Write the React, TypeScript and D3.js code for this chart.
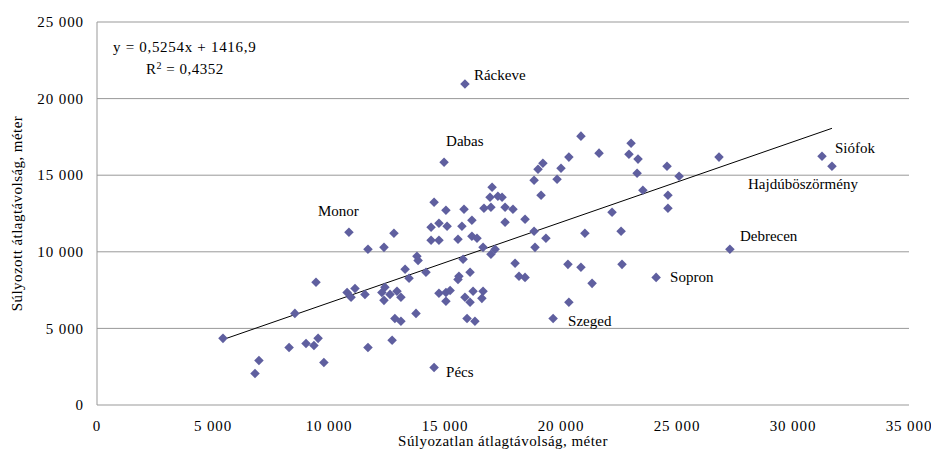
import React from 'react';
import * as d3 from 'd3';

// Súlyozatlan (x) és súlyozott (y) átlagtávolság, méter
const unweighted = [
  5430, 6810, 6980, 8280, 8530, 9010, 9350, 9530, 9780, 9440,
  10860, 11680, 10780, 11120, 10950, 11550, 11680, 12720, 12370, 12800,
  12280, 12410, 12370, 12630, 12930, 13100, 12840, 13100, 13280, 13450,
  13790, 13840, 13750, 14180, 14530, 15040, 14400, 14740, 15090, 14400,
  14740, 15560, 14530, 14740, 15040, 15220, 15040, 14960, 15860, 15820,
  16160, 15730, 16160, 16380, 16640, 15780, 15600, 16080, 15560, 15860,
  16080, 16210, 16640, 16590, 15950, 16290, 16940, 17030, 17280, 17460,
  16680, 16980, 17590, 17930, 17590, 18450, 16980, 17160, 18020, 18190,
  18450, 18840, 19010, 19220, 19140, 18840, 19350, 18880, 19830, 20000,
  20340, 20860, 21640, 21030, 20300, 20860, 21340, 20340, 19660, 22200,
  22590, 22630, 23020, 22930, 23320, 23280, 23530, 24570, 25090, 24610,
  24610, 24100, 26810, 27280, 31250, 31680,
];
const weighted = [
  4350, 2060, 2910, 3760, 5980, 4020, 3890, 4350, 2780, 8010,
  11270, 10160, 7350, 7610, 7030, 7220, 3760, 4220, 10290, 11210,
  7350, 7680, 6830, 7220, 7420, 7030, 5650, 5460, 8860, 8270,
  9710, 9440, 5980, 8660, 13240, 12710, 11600, 11860, 11670, 10750,
  10750, 10820, 2450, 7290, 7350, 7480, 6770, 15850, 20950, 12780,
  12060, 11670, 11010, 10880, 10290, 9510, 8400, 8660, 8200, 7030,
  6700, 7420, 7420, 6960, 5650, 5460, 13560, 14220, 13630, 13560,
  12840, 12910, 12910, 12780, 11930, 12120, 9840, 10160, 9250, 8400,
  8330, 14670, 15390, 15780, 13690, 11340, 10880, 10290, 14740, 15460,
  16180, 17550, 16440, 11210, 9180, 8990, 7940, 6700, 5650, 12580,
  11340, 9180, 17090, 16370, 16050, 15130, 14020, 15590, 14930, 13690,
  12840, 8330, 16180, 10160, 16240, 15590,
];

// városnevek: pont indexe, név
const cityIndex = [48, 47, 10, 114, 115, 113, 111, 98, 42];
const cityName = ['Ráckeve', 'Dabas', 'Monor', 'Siófok', 'Hajdúböszörmény', 'Debrecen', 'Sopron', 'Szeged', 'Pécs'];
// felirat eltolása a ponthoz képest (px)
const cityDx = [9, 2, -31, 13, -84, 10, 14, 15, 12];
const cityDy = [-4, -16, -16, -3, 23, -8, 5, 8, 10];

const xTicks = [0, 5000, 10000, 15000, 20000, 25000, 30000, 35000];
const yTicks = [0, 5000, 10000, 15000, 20000, 25000];

const slope = 0.5254;
const intercept = 1416.9;
const rSquared = 0.4352;

const width = 931;
const height = 457;
const margin = { left: 97, right: 22, top: 22, bottom: 52 };
const font = "'Liberation Serif', 'Times New Roman', serif";
const pointColor = '#5f5f9f';
const gridColor = '#999999';

const fmt = (v: number) => (v === 0 ? '0' : d3.format(',')(v).replace(/,/g, ' '));
const dec = (v: number) => String(v).replace('.', ',');

export default function App() {
  const x = d3.scaleLinear().domain([0, 35000]).range([margin.left, width - margin.right]);
  const y = d3.scaleLinear().domain([0, 25000]).range([height - margin.bottom, margin.top]);

  const points = unweighted.map((v, i) => [v, weighted[i]] as [number, number]);
  const [xMin, xMax] = d3.extent(unweighted) as [number, number];
  const trend = d3.line<number>()
    .x(d => x(d))
    .y(d => y(slope * d + intercept));

  const diamond = d3.symbol().type(d3.symbolDiamond2).size(58)();
  const ts = { fontFamily: font };
  const tick = { fontFamily: font, letterSpacing: '0.9px' };
  const title = { fontFamily: font, letterSpacing: '0.45px' };

  return (
    <svg width={width} height={height} style={{ position: 'absolute', left: 0, top: 0, background: '#fff' }}>
      {yTicks.filter(t => t > 0).map(t => (
        <line key={t} x1={x(0)} x2={x(35000)} y1={y(t)} y2={y(t)} stroke={gridColor} strokeWidth={1} />
      ))}
      <line x1={x(0)} x2={x(0)} y1={y(0)} y2={y(25000)} stroke={gridColor} />
      <line x1={x(0)} x2={x(35000)} y1={y(0)} y2={y(0)} stroke={gridColor} />

      {yTicks.map(t => (
        <text key={t} style={tick} x={x(0) - 13} y={y(t)} dy="0.35em" textAnchor="end" fontSize={15}>{fmt(t)}</text>
      ))}
      {xTicks.map(t => (
        <text key={t} style={tick} x={x(t)} y={y(0) + 21} dy="0.35em" textAnchor="middle" fontSize={15}>{fmt(t)}</text>
      ))}

      <text style={title} x={(x(0) + x(35000)) / 2} y={y(0) + 41} textAnchor="middle" fontSize={15}>Súlyozatlan átlagtávolság, méter</text>
      <text style={title} transform={`translate(22, ${(y(0) + y(25000)) / 2}) rotate(-90)`} textAnchor="middle" fontSize={15}>Súlyozott átlagtávolság, méter</text>

      <path d={trend([xMin, xMax]) || ''} fill="none" stroke="#000" strokeWidth={1} />

      {points.map(([a, b], i) => (
        <path key={i} d={diamond || ''} transform={`translate(${x(a)},${y(b)})`} fill={pointColor} />
      ))}

      {cityIndex.map((idx, i) => (
        <text key={cityName[i]} style={ts} x={x(unweighted[idx]) + cityDx[i]} y={y(weighted[idx]) + cityDy[i]} fontSize={15}>{cityName[i]}</text>
      ))}

      <text style={{ fontFamily: font, letterSpacing: '0.7px' }} x={113} y={52} fontSize={15}>{`y = ${dec(slope)}x + ${dec(intercept)}`}</text>
      <text style={{ fontFamily: font, letterSpacing: '0.5px' }} x={146} y={74} fontSize={15}>R<tspan fontSize={10} dy={-5}>2</tspan><tspan dy={5}>{` = ${dec(rSquared)}`}</tspan></text>
    </svg>
  );
}
